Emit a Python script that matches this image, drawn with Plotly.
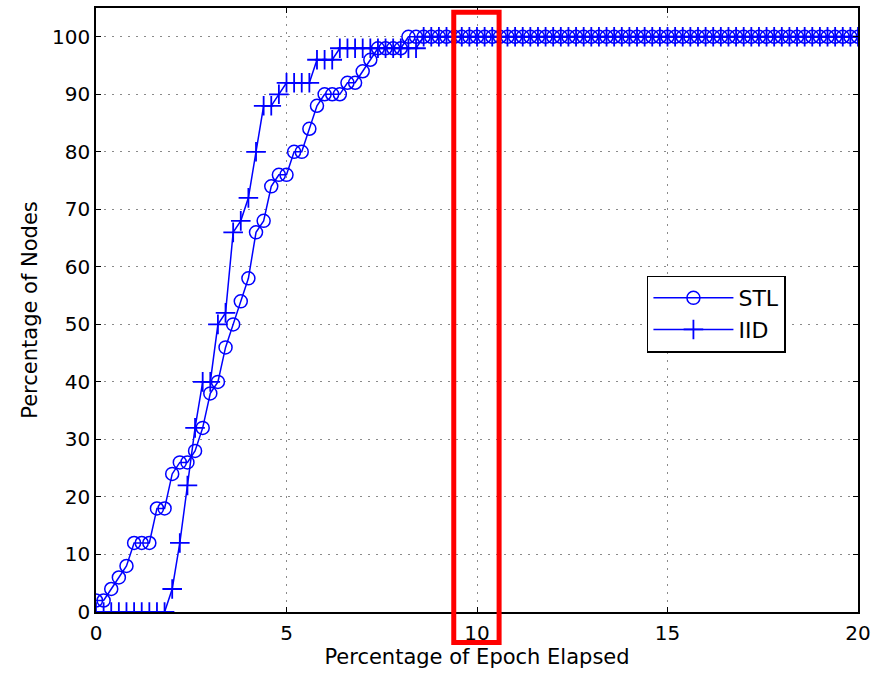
import plotly.graph_objects as go

# x grid: percentage of epoch elapsed, step 0.2 from 0 to 20
x_vals = [round(i * 0.2, 1) for i in range(101)]

stl_head = [2, 2, 4, 6, 8, 12, 12, 12, 18, 18,
            24, 26, 26, 28, 32, 38, 40, 46, 50, 54,
            58, 66, 68, 74, 76, 76, 80, 80, 84, 88,
            90, 90, 90, 92, 92, 94, 96, 98, 98, 98,
            98]
stl_vals = stl_head + [100] * (101 - len(stl_head))

iid_head = [0, 0, 0, 0, 0, 0, 0, 0, 0, 0,
            4, 12, 22, 32, 40, 40, 50, 52, 66, 68,
            72, 80, 88, 88, 90, 92, 92, 92, 92, 96,
            96, 96, 98, 98, 98, 98, 98, 98, 98, 98,
            98, 98, 98]
iid_vals = iid_head + [100] * (101 - len(iid_head))

x_ticks = [0, 5, 10, 15, 20]
y_ticks = [0, 10, 20, 30, 40, 50, 60, 70, 80, 90, 100]

blue = "#0000FF"
font = "DejaVu Sans, Liberation Sans, Arial, sans-serif"

fig = go.Figure()
fig.add_trace(go.Scatter(
    x=x_vals, y=stl_vals, name="STL", mode="lines+markers",
    line=dict(color=blue, width=1.5),
    marker=dict(symbol="circle-open", size=13, color=blue, line=dict(width=1.5, color=blue)),
))
fig.add_trace(go.Scatter(
    x=x_vals, y=iid_vals, name="IID", mode="lines+markers",
    line=dict(color=blue, width=1.5),
    marker=dict(symbol="cross-thin-open", size=14, color=blue, line=dict(width=1.8, color=blue)),
))

# red highlight box around x = 10
fig.add_shape(type="rect", xref="x", yref="paper",
              x0=9.39, x1=10.58, y0=-0.0506, y1=0.993,
              line=dict(color="#FF0000", width=5), fillcolor="rgba(0,0,0,0)", layer="above")

axis_common = dict(
    showline=True, linecolor="black", linewidth=1.5, mirror="allticks",
    ticks="inside", ticklen=5, tickcolor="black", tickwidth=1,
    showgrid=True, gridcolor="#8a8a8a", griddash="2px,6px", gridwidth=1,
    zeroline=False,
    tickfont=dict(family=font, size=20, color="black"),
    title_font=dict(family=font, size=21, color="black"),
)

fig.update_layout(
    width=877, height=677,
    margin=dict(l=96, r=19, t=6, b=65),
    paper_bgcolor="white", plot_bgcolor="white",
    showlegend=True,
    legend=dict(
        x=0.723, y=0.557, xanchor="left", yanchor="top",
        bordercolor="black", borderwidth=1.5, bgcolor="white",
        font=dict(family=font, size=22, color="black"),
        itemwidth=80, tracegroupgap=2,
    ),
    xaxis=dict(range=[0, 20], tickvals=x_ticks, ticklabelstandoff=2,
               title=dict(text="Percentage of Epoch Elapsed", standoff=4),
               **axis_common),
    yaxis=dict(range=[0, 105], tickvals=y_ticks, ticklabelstandoff=0,
               title=dict(text="Percentage of Nodes", standoff=9),
               **axis_common),
)

fig.write_html("out.html")
